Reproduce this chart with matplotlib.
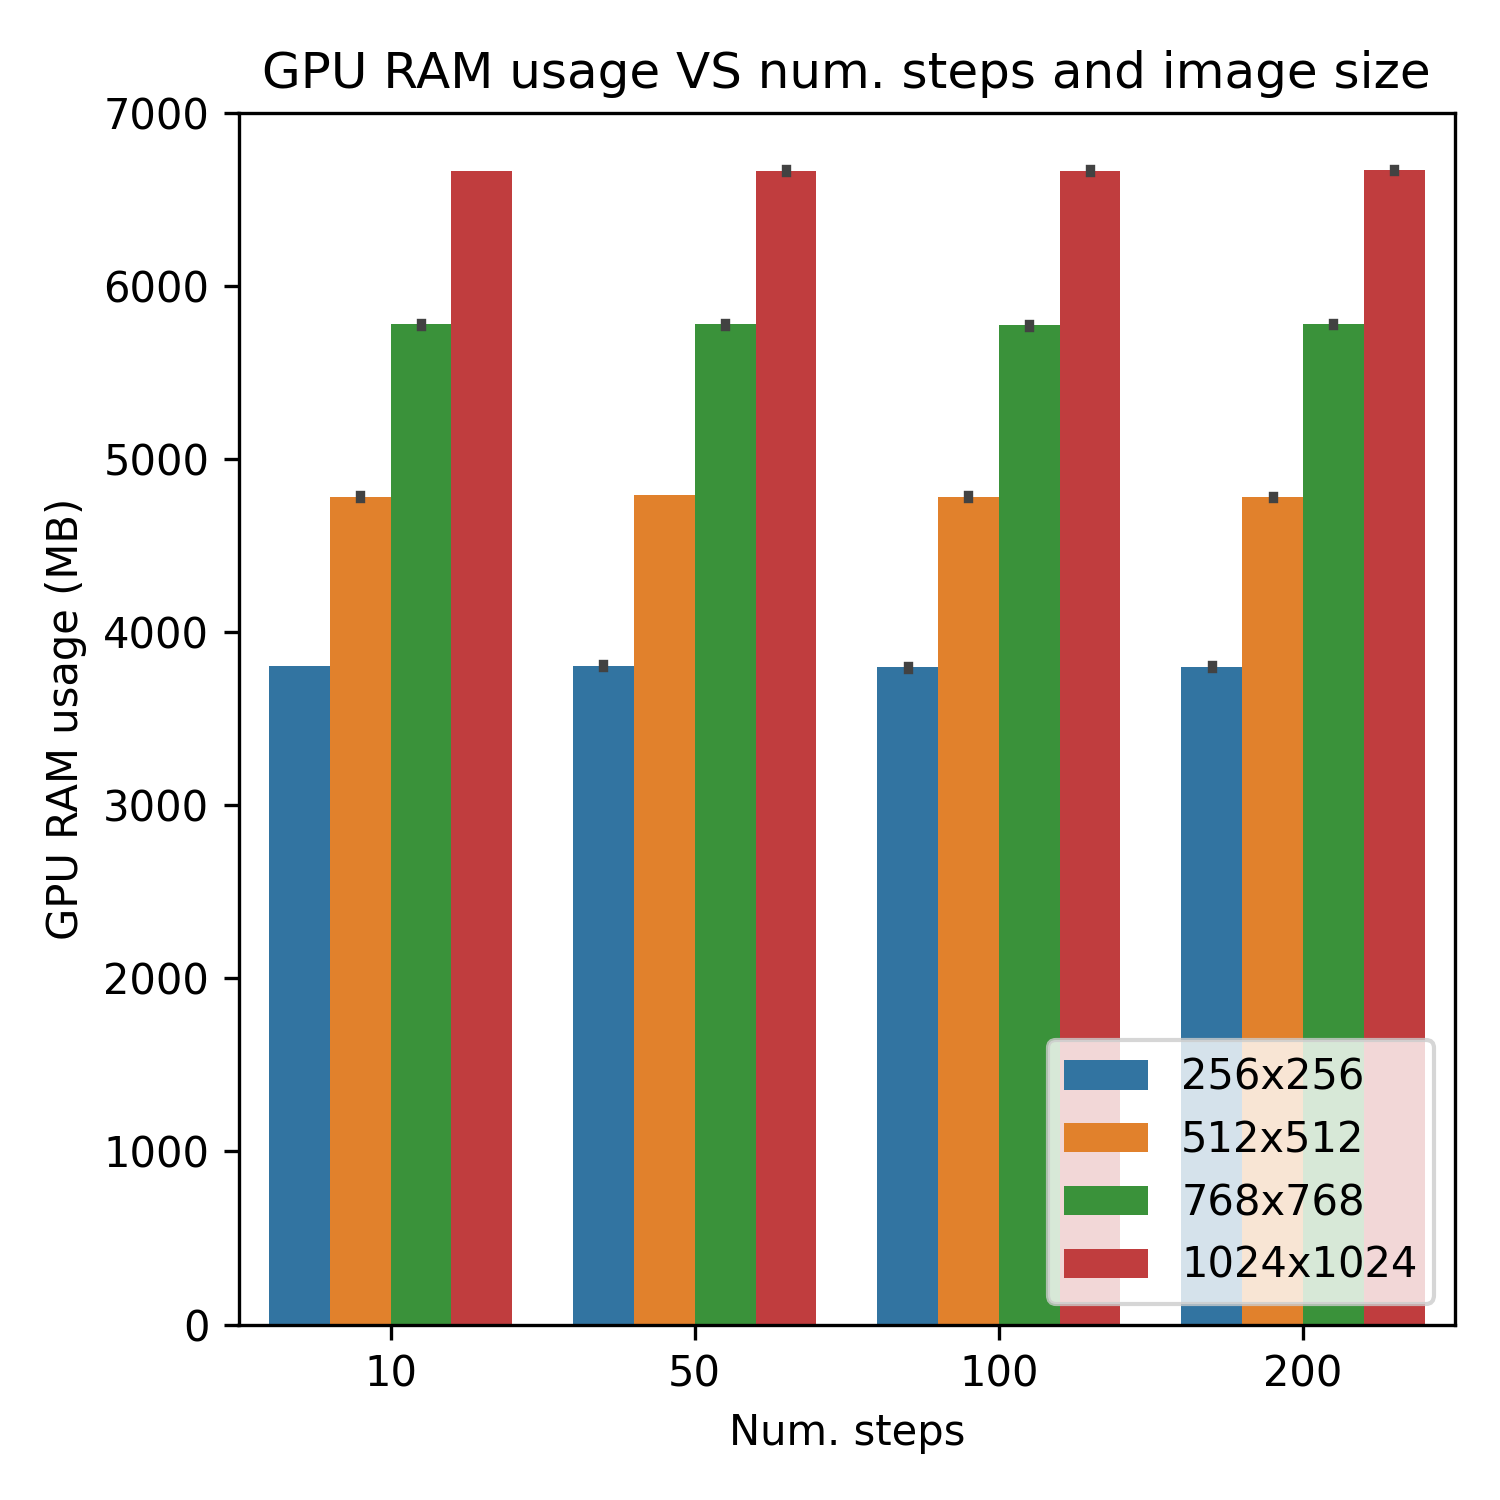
import numpy as np
from matplotlib import pyplot as plt

# datos
steps = ['10', '50', '100', '200']
sizes = ['256x256', '512x512', '768x768', '1024x1024']
ram_256 = [3806, 3806, 3795, 3800]
ram_512 = [4782, 4788, 4782, 4780]
ram_768 = [5776, 5776, 5770, 5776]
ram_1024 = [6665, 6665, 6665, 6667]
# semiancho del intervalo de confianza (0 = no se ve)
err_256 = [0, 7, 7, 7]
err_512 = [7, 0, 7, 6]
err_768 = [7, 7, 6, 6]
err_1024 = [0, 7, 7, 7]

colors = ['#3274a1', '#e1812c', '#3a923a', '#c03d3e']
values = [ram_256, ram_512, ram_768, ram_1024]
errors = [err_256, err_512, err_768, err_1024]

fig = plt.figure(figsize=(5, 5), dpi=300)
ax = fig.add_axes([0.159, 0.117, 0.811, 0.808])

x = np.arange(len(steps))
width = 0.8 / len(sizes)
for i in range(len(sizes)):
    pos = x - 0.4 + width * (i + 0.5)
    ax.bar(pos, values[i], width=width, color=colors[i], label=sizes[i])
    for j in range(len(steps)):
        if errors[i][j] > 0:
            ax.plot([pos[j], pos[j]], [values[i][j] - errors[i][j], values[i][j] + errors[i][j]],
                    color='#424242', lw=2.25, solid_capstyle='projecting')

ax.set_xlim(-0.5, 3.5)
ax.set_ylim(0, 7000)
ax.set_xticks(x)
ax.set_xticklabels(steps)
ax.set_xlabel('Num. steps')
ax.set_ylabel('GPU RAM usage (MB)')
ax.set_title('GPU RAM usage VS num. steps and image size', fontsize=12)
ax.legend(loc='lower right')

fig.savefig('out.png', dpi=300)
